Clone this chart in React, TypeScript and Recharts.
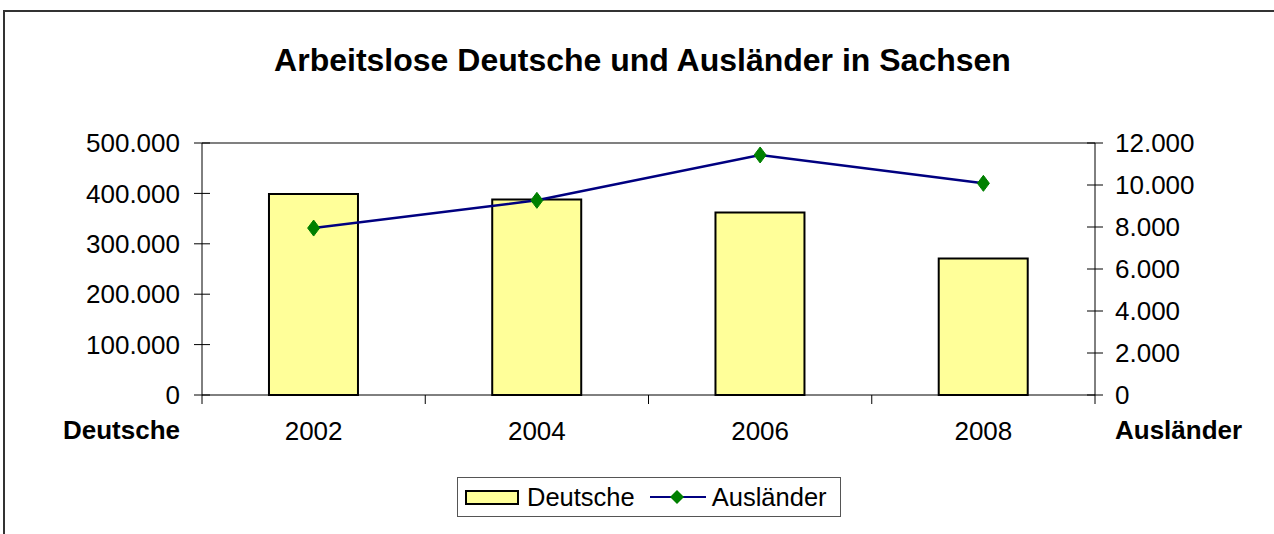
import {
  ComposedChart,
  Bar,
  Line,
  XAxis,
  YAxis,
  ReferenceLine,
} from 'recharts';

const years = ['2002', '2004', '2006', '2008'];
const deutsche = [398700, 388100, 362300, 270900];
const auslaender = [7950, 9270, 11430, 10080];
const leftTicks = [0, 100000, 200000, 300000, 400000, 500000];
const rightTicks = [0, 2000, 4000, 6000, 8000, 10000, 12000];

const data = years.map((year, i) => ({
  year,
  deutsche: deutsche[i],
  auslaender: auslaender[i],
}));

const FONT = '"Liberation Sans", Arial, sans-serif';
const W = 1274;
const H = 534;
const PLOT_LEFT = 202;
const PLOT_RIGHT = 1095;
const TICK_FS = 26;

function fmt(v: number): string {
  return String(Math.round(v)).replace(/\B(?=(\d{3})+(?!\d))/g, '.');
}

// y-axis ticks cross the axis line on both sides
function LeftTick(props: any) {
  const { y, payload } = props;
  return (
    <g>
      <line x1={PLOT_LEFT - 8} x2={PLOT_LEFT + 8} y1={y} y2={y} stroke="#000" />
      <text x={PLOT_LEFT - 22} y={y} dy="0.355em" textAnchor="end" fontSize={TICK_FS} fontFamily={FONT} fill="#000">
        {fmt(payload.value)}
      </text>
    </g>
  );
}

function RightTick(props: any) {
  const { y, payload } = props;
  return (
    <g>
      <line x1={PLOT_RIGHT - 8} x2={PLOT_RIGHT + 8} y1={y} y2={y} stroke="#000" />
      <text x={PLOT_RIGHT + 20} y={y} dy="0.355em" textAnchor="start" fontSize={TICK_FS} fontFamily={FONT} fill="#000">
        {fmt(payload.value)}
      </text>
    </g>
  );
}

// category ticks sit on the band boundaries, labels in the middle
function XTick(props: any) {
  const { x, y, payload, index, visibleTicksCount } = props;
  const half = payload.offset || (PLOT_RIGHT - PLOT_LEFT) / years.length / 2;
  return (
    <g>
      <line x1={x - half} x2={x - half} y1={y} y2={y + 9} stroke="#000" />
      {index === visibleTicksCount - 1 && (
        <line x1={x + half} x2={x + half} y1={y} y2={y + 9} stroke="#000" />
      )}
      <text x={x} y={y + 45} textAnchor="middle" fontSize={TICK_FS} fontFamily={FONT} fill="#000">
        {payload.value}
      </text>
    </g>
  );
}

function Diamond(props: any) {
  const { cx, cy } = props;
  if (cx == null || cy == null) return null;
  return (
    <polygon
      points={`${cx},${cy - 8} ${cx + 6},${cy} ${cx},${cy + 8} ${cx - 6},${cy}`}
      fill="#008000"
      stroke="#008000"
    />
  );
}

export default function App() {
  return (
    <div
      style={{
        position: 'absolute',
        left: 0,
        top: 0,
        width: W,
        height: H,
        overflow: 'hidden',
        background: '#fff',
        fontFamily: FONT,
      }}
    >
      <div
        style={{
          position: 'absolute',
          left: 3,
          top: 10,
          width: W + 20,
          height: H + 20,
          border: '2px solid #333',
        }}
      />
      <div
        style={{
          position: 'absolute',
          left: 0,
          width: 1285,
          top: 42,
          textAlign: 'center',
          fontWeight: 'bold',
          fontSize: 32,
          lineHeight: '36px',
          color: '#000',
        }}
      >
        Arbeitslose Deutsche und Ausländer in Sachsen
      </div>
      <div style={{ position: 'absolute', left: 0, top: 0 }}>
        <ComposedChart
          width={W}
          height={H}
          data={data}
          margin={{ top: 143, right: 0, bottom: 99, left: 0 }}
          barCategoryGap="30%"
        >
          <XAxis
            dataKey="year"
            xAxisId="x"
            height={40}
            tickSize={0}
            tickMargin={0}
            tickLine={false}
            axisLine={{ stroke: '#000' }}
            tick={<XTick />}
            interval={0}
          />
          <YAxis
            yAxisId="l"
            orientation="left"
            width={PLOT_LEFT}
            domain={[0, 500000]}
            ticks={leftTicks}
            tickLine={false}
            tickSize={0}
            axisLine={{ stroke: '#000' }}
            tick={<LeftTick />}
            interval={0}
            label={{
              position: 'insideBottom',
              content: () => (
                <text x={PLOT_LEFT - 22} y={439} textAnchor="end" fontSize={TICK_FS} fontWeight="bold" fontFamily={FONT} fill="#000">
                  Deutsche
                </text>
              ),
            }}
          />
          <YAxis
            yAxisId="r"
            orientation="right"
            width={W - PLOT_RIGHT}
            domain={[0, 12000]}
            ticks={rightTicks}
            tickLine={false}
            tickSize={0}
            axisLine={{ stroke: '#000' }}
            tick={<RightTick />}
            interval={0}
            label={{
              position: 'insideBottom',
              content: () => (
                <text x={PLOT_RIGHT + 20} y={439} textAnchor="start" fontSize={TICK_FS} fontWeight="bold" fontFamily={FONT} fill="#000">
                  Ausländer
                </text>
              ),
            }}
          />
          <ReferenceLine yAxisId="l" xAxisId="x" y={500000} stroke="#808080" strokeWidth={2} />
          <Bar
            xAxisId="x"
            yAxisId="l"
            dataKey="deutsche"
            fill="#FFFF99"
            stroke="#000"
            strokeWidth={2}
            isAnimationActive={false}
          />
          <Line
            xAxisId="x"
            yAxisId="r"
            dataKey="auslaender"
            stroke="#000080"
            strokeWidth={2.5}
            dot={<Diamond />}
            activeDot={false}
            isAnimationActive={false}
          />
        </ComposedChart>
      </div>
      <div
        style={{
          position: 'absolute',
          left: 457,
          top: 477,
          width: 382,
          height: 38,
          border: '1px solid #555',
          display: 'flex',
          alignItems: 'center',
          fontSize: 25.5,
          color: '#000',
          boxSizing: 'content-box',
        }}
      >
        <div
          style={{
            marginLeft: 7,
            width: 50,
            height: 11,
            background: '#FFFF99',
            border: '2px solid #000',
          }}
        />
        <span style={{ marginLeft: 8 }}>Deutsche</span>
        <svg width={56} height={20} style={{ marginLeft: 15 }}>
          <line x1={0} x2={56} y1={10} y2={10} stroke="#000080" strokeWidth={2} />
          <polygon points="27,3 34,10 27,17 20,10" fill="#008000" />
        </svg>
        <span style={{ marginLeft: 6 }}>Ausländer</span>
      </div>
    </div>
  );
}
